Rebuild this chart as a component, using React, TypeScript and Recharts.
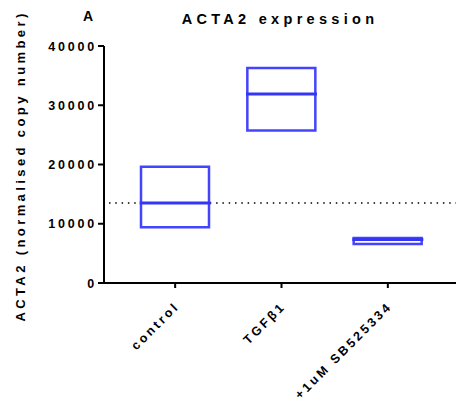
import React from 'react';
import { ComposedChart, Bar, Scatter, XAxis, YAxis, ReferenceLine } from 'recharts';

const categories = ['control', 'TGFβ1', '+1uM SB525334'];
const q1Values = [9400, 25750, 6600];
const q3Values = [19600, 36300, 7600];
const medianValues = [13500, 31900, 7330];
const yTicks = [0, 10000, 20000, 30000, 40000];
const baselineValue = 13500;

const data = categories.map((c, i) => ({
  name: c,
  range: [q1Values[i], q3Values[i]],
  median: medianValues[i],
}));

const FONT = '"Liberation Sans", Arial, Helvetica, sans-serif';

const XTick = (props: any) => {
  const { x, y, payload } = props;
  const ax = x + 5;
  const ay = y + 17;
  return (
    <text
      x={ax}
      y={ay}
      transform={`rotate(-45 ${ax} ${ay})`}
      textAnchor="end"
      fontFamily={FONT}
      fontWeight="bold"
      fontSize={12.5}
      letterSpacing={2.8}
      fill="#000"
    >
      {payload.value}
    </text>
  );
};

const YTick = (props: any) => {
  const { x, y, payload } = props;
  return (
    <text
      x={x + 3}
      y={y + 4.5}
      textAnchor="end"
      fontFamily={FONT}
      fontWeight="bold"
      fontSize={12.5}
      letterSpacing={2.8}
      fill="#000"
    >
      {payload.value}
    </text>
  );
};

const MedianShape = (props: any) => {
  const { cx, cy } = props;
  return <line x1={cx - 35.5} x2={cx + 35.5} y1={cy} y2={cy} stroke="#3535f5" strokeWidth={3} />;
};

export default function App() {
  return (
    <div style={{ position: 'absolute', left: 0, top: 0, width: 456, height: 403, background: '#fff' }}>
      <svg width={456} height={403} style={{ position: 'absolute', left: 0, top: 0 }}>
        <text x={83} y={21} fontFamily={FONT} fontWeight="bold" fontSize={14} fill="#000">A</text>
        <text x={280} y={24} textAnchor="middle" fontFamily={FONT} fontWeight="bold" fontSize={14.5} letterSpacing={4.3} fill="#000">
          ACTA2 expression
        </text>
        <text
          x={25}
          y={166}
          transform="rotate(-90 25 166)"
          textAnchor="middle"
          fontFamily={FONT}
          fontWeight="bold"
          fontSize={13}
          letterSpacing={3.4}
          fill="#000"
        >
          ACTA2 (normalised copy number)
        </text>
      </svg>
      <ComposedChart
        width={456}
        height={403}
        data={data}
        margin={{ top: 46, right: 0, bottom: 10, left: 0 }}
        style={{ position: 'absolute', left: 0, top: 0 }}
      >
        <XAxis
          dataKey="name"
          type="category"
          padding={{ left: 18, right: 15 }}
          height={110}
          stroke="#000"
          axisLine={{ stroke: '#000', strokeWidth: 2 }}
          tickLine={{ stroke: '#000', strokeWidth: 2 }}
          tickSize={5}
          tick={<XTick />}
          interval={0}
        />
        <YAxis
          type="number"
          domain={[0, 40000]}
          ticks={yTicks}
          width={104}
          stroke="#000"
          axisLine={{ stroke: '#000', strokeWidth: 2 }}
          tickLine={{ stroke: '#000', strokeWidth: 2 }}
          tickSize={6}
          tickMargin={4}
          tick={<YTick />}
          interval={0}
        />
        <ReferenceLine
          y={baselineValue}
          stroke="#000"
          strokeWidth={1.5}
          strokeDasharray="1.5 4.8"
          strokeDashoffset={-5}
        />
        <Bar
          dataKey="range"
          barSize={68}
          fill="none"
          stroke="#4444ff"
          strokeWidth={2.5}
          isAnimationActive={false}
        />
        <Scatter dataKey="median" shape={<MedianShape />} isAnimationActive={false} />
      </ComposedChart>
    </div>
  );
}
